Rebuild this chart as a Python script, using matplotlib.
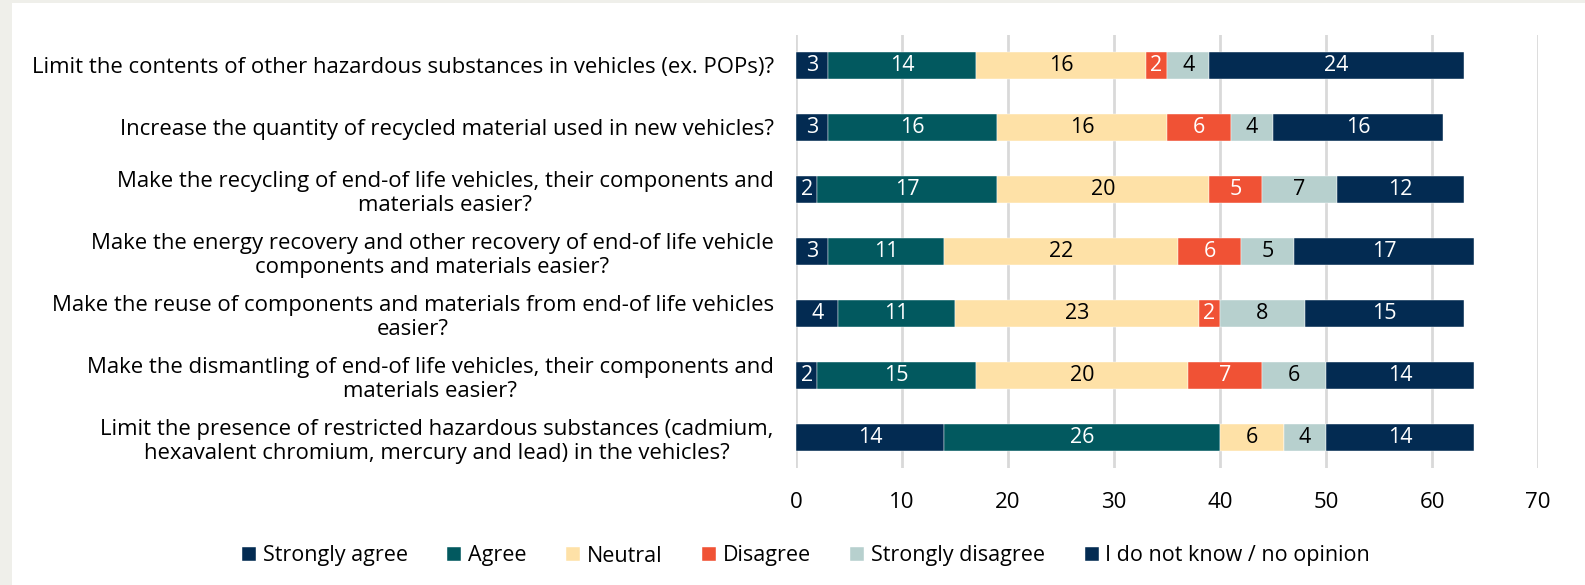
import matplotlib.pyplot as plt
import numpy as np
from matplotlib.patches import Rectangle

questions = [
    "Limit the contents of other hazardous substances in vehicles (ex. POPs)?",
    "Increase the quantity of recycled material used in new vehicles?",
    "Make the recycling of end-of life vehicles, their components and\nmaterials easier?",
    "Make the energy recovery and other recovery of end-of life vehicle\ncomponents and materials easier?",
    "Make the reuse of components and materials from end-of life vehicles\neasier?",
    "Make the dismantling of end-of life vehicles, their components and\nmaterials easier?",
    "Limit the presence of restricted hazardous substances (cadmium,\nhexavalent chromium, mercury and lead) in the vehicles?",
]
series_names = ["Strongly agree", "Agree", "Neutral", "Disagree",
                "Strongly disagree", "I do not know / no opinion"]
strongly_agree = [3, 3, 2, 3, 4, 2, 14]
agree = [14, 16, 17, 11, 11, 15, 26]
neutral = [16, 16, 20, 22, 23, 20, 6]
disagree = [2, 6, 5, 6, 2, 7, 0]
strongly_disagree = [4, 4, 7, 5, 8, 6, 4]
no_opinion = [24, 16, 12, 17, 15, 14, 14]
x_ticks = [0, 10, 20, 30, 40, 50, 60, 70]

colors = ["#032B52", "#02595F", "#FEE1A7", "#F05235", "#B7D0CE", "#032B52"]
text_colors = ["white", "white", "black", "white", "black", "white"]

plt.rcParams["font.family"] = ["Open Sans", "DejaVu Sans"]

W, H = 1585, 585
fig = plt.figure(figsize=(W / 100, H / 100), dpi=100, facecolor="#EFEFEA")
fig.patches.append(Rectangle((12 / W, 0), 1, 1 - 3 / H, transform=fig.transFigure,
                             facecolor="white", edgecolor="none", zorder=-10))
ax = fig.add_axes([796 / W, 117 / H, 742 / W, 433 / H])
ax.set_facecolor("none")

data = [strongly_agree, agree, neutral, disagree, strongly_disagree, no_opinion]
y = np.arange(len(questions))
left = np.zeros(len(questions))
for name, vals, col, tcol in zip(series_names, data, colors, text_colors):
    vals = np.array(vals, dtype=float)
    bars = ax.barh(y, vals, left=left, height=0.425, color=col, label=name,
                   edgecolor="white", linewidth=0.3, zorder=3)
    for b, v in zip(bars, vals):
        if v > 0:
            ax.text(b.get_x() + b.get_width() / 2, b.get_y() + b.get_height() / 2,
                    f"{int(v)}", ha="center", va="center", color=tcol,
                    fontsize=15.5, zorder=4)
    left += vals

ax.set_xlim(0, 70)
ax.set_ylim(6.49, -0.49)
ax.set_xticks(x_ticks)
ax.set_yticks(y)
ax.set_yticklabels(questions, fontsize=15.9)
for lbl in ax.get_yticklabels():
    lbl.set_multialignment("center")
ax.tick_params(axis="x", labelsize=16, length=0, pad=17)
ax.tick_params(axis="y", length=0, pad=16)
ax.grid(axis="x", color="#D9D9D9", linewidth=2, zorder=0)
for s in ax.spines.values():
    s.set_visible(False)

ax.legend(loc="center", bbox_to_anchor=(806 / W, 29 / H), bbox_transform=fig.transFigure,
          ncol=6, frameon=False, fontsize=15.5, handlelength=0.65, handleheight=0.65,
          handletextpad=0.3, columnspacing=1.85)

fig.savefig("out.png", dpi=100, facecolor=fig.get_facecolor())
